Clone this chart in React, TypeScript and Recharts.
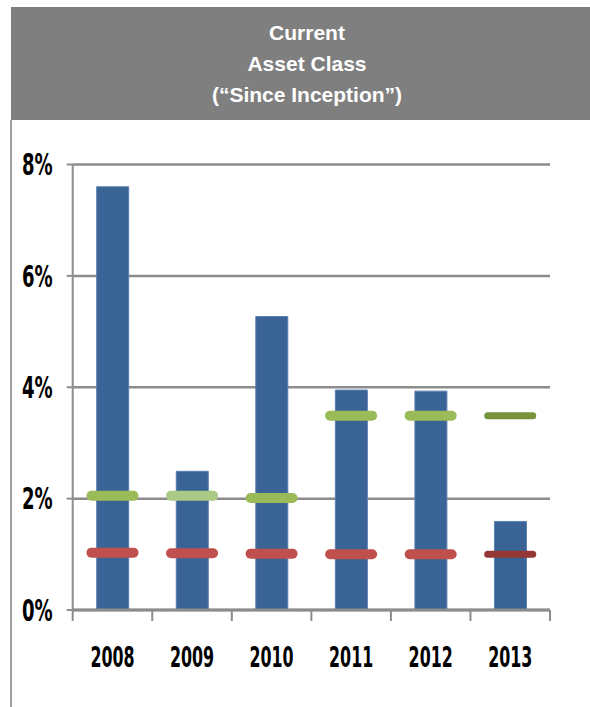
import { ComposedChart, Bar, Line, XAxis, YAxis, CartesianGrid } from 'recharts';

const YEARS = ['2008', '2009', '2010', '2011', '2012', '2013'];
const RETURNS = [7.6, 2.49, 5.27, 3.95, 3.93, 1.59];
const GREEN_MARKS = [2.05, 2.05, 2.01, 3.49, 3.49, 3.49];
const RED_MARKS = [1.03, 1.02, 1.01, 1.0, 1.0, 1.0];
const Y_TICKS = [0, 2, 4, 6, 8];

const GREEN_COLORS = ['#9bbb59', '#a9c985', '#9bbb59', '#9bbb59', '#9bbb59', '#77933c'];
const RED_COLORS = ['#c0504d', '#c0504d', '#c0504d', '#c0504d', '#c0504d', '#953735'];
const MARK_HEIGHTS = [10, 10, 10, 10, 10, 7];

const NARROW = "'Liberation Sans Narrow', 'DejaVu Sans Condensed', sans-serif";
const AXIS_GREY = '#8c8c8c';
const BAND = (550 - 72.7) / YEARS.length;

const data = YEARS.map((year, i) => ({
  year,
  value: RETURNS[i],
  green: GREEN_MARKS[i],
  red: RED_MARKS[i],
}));

// rounded horizontal dash used for the benchmark markers
const makeDash = (colors: string[]) => (props: any) => {
  const { cx, cy, index } = props;
  if (cx == null || cy == null) return <g key={`d-${index}`} />;
  const h = MARK_HEIGHTS[index];
  return (
    <rect
      key={`d-${index}`}
      x={cx - 26}
      y={cy - h / 2}
      width={52}
      height={h}
      rx={h / 2}
      fill={colors[index]}
    />
  );
};

const YTick = (props: any) => {
  const { x, y, payload } = props;
  return (
    <text
      transform={`translate(${x},${y}) scale(0.67,1)`}
      textAnchor="end"
      dy="0.36em"
      fontFamily={NARROW}
      fontWeight="bold"
      fontSize={30}
      fill="#000"
    >
      {payload.value}%
    </text>
  );
};

const XTick = (props: any) => {
  const { x, y, payload, index } = props;
  const top = y - 12;
  return (
    <g>
      <line x1={x - BAND / 2} x2={x - BAND / 2} y1={top} y2={top + 11} stroke={AXIS_GREY} strokeWidth={2} />
      {index === YEARS.length - 1 && (
        <line x1={x + BAND / 2} x2={x + BAND / 2} y1={top} y2={top + 11} stroke={AXIS_GREY} strokeWidth={2} />
      )}
      <text
        transform={`translate(${x},${y + 45}) scale(0.63,1)`}
        textAnchor="middle"
        fontFamily={NARROW}
        fontWeight="bold"
        fontSize={28}
        fill="#000"
      >
        {payload.value}
      </text>
    </g>
  );
};

export default function App() {
  return (
    <div style={{ position: 'absolute', left: 0, top: 0, width: 590, height: 707, background: '#fff', overflow: 'hidden' }}>
      <div
        style={{
          position: 'absolute',
          left: 11,
          top: 7,
          width: 579,
          height: 113,
          boxSizing: 'border-box',
          paddingTop: 10,
          paddingLeft: 13,
          background: '#7f7f7f',
          color: '#fff',
          fontFamily: "'Liberation Sans', Arial, sans-serif",
          fontWeight: 'bold',
          fontSize: 21,
          lineHeight: '31px',
          textAlign: 'center',
        }}
      >
        <div>Current</div>
        <div>Asset Class</div>
        <div>(“Since Inception”)</div>
      </div>
      <div style={{ position: 'absolute', left: 10, top: 120, width: 2, height: 587, background: '#a0a0a0' }} />
      <div style={{ position: 'absolute', left: 0, top: 0 }}>
        <ComposedChart
          width={590}
          height={707}
          data={data}
          margin={{ top: 164.5, right: 40, left: 0, bottom: 37 }}
          barSize={32}
        >
          <CartesianGrid vertical={false} stroke={AXIS_GREY} strokeWidth={2.5} />
          <XAxis
            dataKey="year"
            height={60}
            tickLine={false}
            tickSize={10}
            tickMargin={2}
            axisLine={{ stroke: AXIS_GREY, strokeWidth: 3 }}
            tick={<XTick />}
            interval={0}
          />
          <YAxis
            width={72.7}
            domain={[0, 8]}
            ticks={Y_TICKS}
            tickSize={6}
            tickMargin={14}
            axisLine={{ stroke: AXIS_GREY, strokeWidth: 2 }}
            tickLine={{ stroke: AXIS_GREY, strokeWidth: 2 }}
            tick={<YTick />}
          />
          <Bar dataKey="value" fill="#3b6496" stroke="#5b7fae" strokeWidth={1} isAnimationActive={false} />
          <Line dataKey="green" stroke="none" dot={makeDash(GREEN_COLORS)} activeDot={false} isAnimationActive={false} />
          <Line dataKey="red" stroke="none" dot={makeDash(RED_COLORS)} activeDot={false} isAnimationActive={false} />
        </ComposedChart>
      </div>
    </div>
  );
}
